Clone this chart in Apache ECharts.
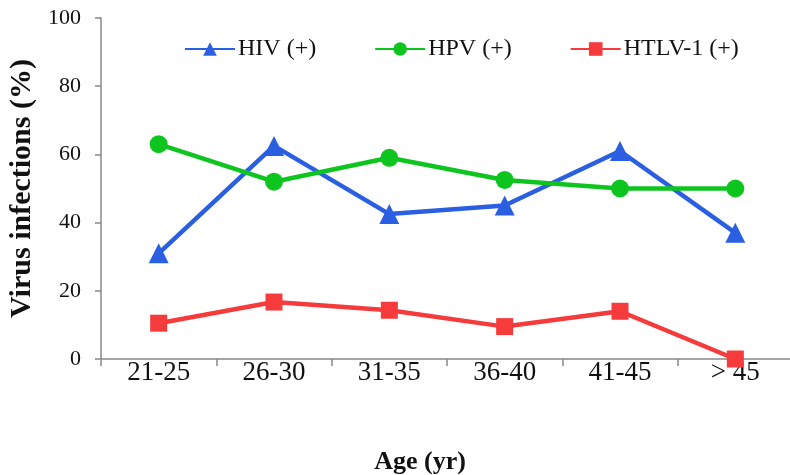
<!DOCTYPE html>
<html><head><meta charset="utf-8">
<script src="https://cdn.jsdelivr.net/npm/echarts@6/dist/echarts.min.js"></script>
<style>html,body{margin:0;padding:0;background:#fff}#c{width:790px;height:475px}</style>
</head><body><div id="c"></div>
<script>
const categories = ['21-25', '26-30', '31-35', '36-40', '41-45', '> 45'];
const hiv = [31, 62.5, 42.5, 45, 61, 37];
const hpv = [63, 52, 59, 52.5, 50, 50];
const htlv = [10.5, 16.7, 14.3, 9.5, 14, 0];
const yTicks = [0, 20, 40, 60, 80, 100];

const chart = echarts.init(document.getElementById('c'));
const font = '"Liberation Serif", "Times New Roman", serif';
chart.setOption({
  animation: false,
  grid: { left: 101, top: 18, width: 692, height: 341, containLabel: false, outerBoundsMode: 'none' },
  legend: {
    top: 32, left: 179, itemGap: 58, itemWidth: 50, itemHeight: 17,
    textStyle: { fontFamily: font, fontSize: 24, color: '#111', padding: [0,0,0,-2] },
    data: ['HIV (+)', 'HPV (+)', 'HTLV-1 (+)']
  },
  xAxis: {
    type: 'category', data: categories, boundaryGap: true,
    name: 'Age (yr)', nameLocation: 'middle', nameGap: 90,
    nameTextStyle: { fontFamily: font, fontSize: 26, fontWeight: 'bold', color: '#111', padding: [0, 54, 0, 0] },
    axisLine: { lineStyle: { color: '#888', width: 1.5 } },
    axisTick: { show: true, length: 7, lineStyle: { color: '#888', width: 1.5 } },
    axisLabel: { fontFamily: font, fontSize: 27, color: '#111', margin: 0 }
  },
  yAxis: {
    type: 'value', min: 0, max: 100, interval: 20,
    name: 'Virus infections (%)', nameLocation: 'middle', nameGap: 59,
    nameTextStyle: { fontFamily: font, fontSize: 30, fontWeight: 'bold', color: '#111' },
    axisLine: { show: true, lineStyle: { color: '#888', width: 1.5 } },
    axisTick: { show: true, length: 6, lineStyle: { color: '#888', width: 1.5 } },
    splitLine: { show: false },
    axisLabel: { fontFamily: font, fontSize: 22, color: '#111', margin: 20,
      formatter: v => yTicks.includes(v) ? String(v) : '' }
  },
  series: [
    { name: 'HIV (+)', type: 'line', data: hiv, symbol: 'triangle', symbolSize: 20,
      lineStyle: { color: '#2a5fe2', width: 4.5 }, itemStyle: { color: '#2a5fe2' } },
    { name: 'HPV (+)', type: 'line', data: hpv, symbol: 'circle', symbolSize: 18,
      lineStyle: { color: '#0ec520', width: 4.5 }, itemStyle: { color: '#0ec520' } },
    { name: 'HTLV-1 (+)', type: 'line', data: htlv, symbol: 'rect', symbolSize: 17,
      lineStyle: { color: '#f53b3b', width: 4.5 }, itemStyle: { color: '#f53b3b' } }
  ]
});
</script></body></html>
